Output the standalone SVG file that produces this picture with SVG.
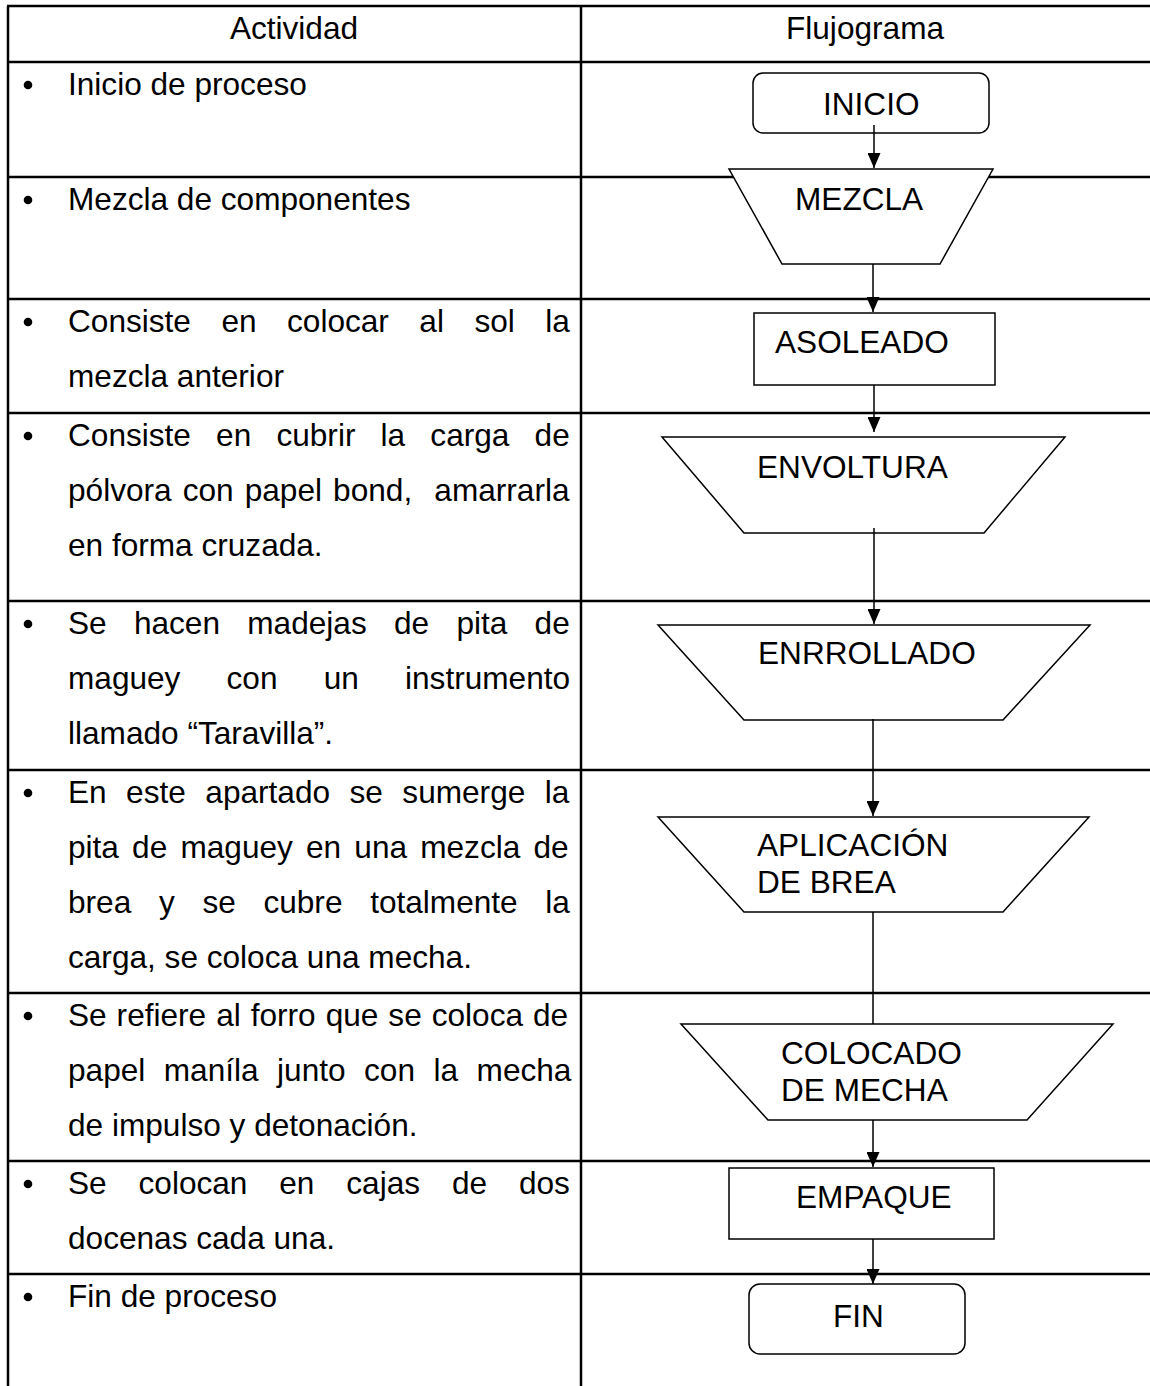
<svg xmlns="http://www.w3.org/2000/svg" width="1150" height="1386" viewBox="0 0 1150 1386">
<style>
text{font-family:"Liberation Sans",Arial,sans-serif;font-size:31.6px;fill:#000}
.grid{stroke:#000;stroke-width:2.5;fill:none}
.shape{stroke:#000;stroke-width:1.5;fill:#fff}
.conn{stroke:#000;stroke-width:1.5;fill:none}
.bul{fill:#000}
</style>
<defs>
<marker id="ah" viewBox="0 0 15 13" refX="15" refY="6.5" markerWidth="15" markerHeight="13" markerUnits="userSpaceOnUse" orient="auto">
<path d="M0,0 L15,6.5 L0,13 z" fill="#000"/>
</marker>
</defs>
<rect width="1150" height="1386" fill="#fff"/>
<g id="table" class="grid">
<line x1="8" y1="6" x2="8" y2="1386"/>
<line x1="581" y1="6" x2="581" y2="1386"/>
<line x1="7" y1="6" x2="1150" y2="6"/>
<line x1="7" y1="62" x2="1150" y2="62"/>
<line x1="7" y1="177" x2="1150" y2="177"/>
<line x1="7" y1="299" x2="1150" y2="299"/>
<line x1="7" y1="413" x2="1150" y2="413"/>
<line x1="7" y1="601" x2="1150" y2="601"/>
<line x1="7" y1="770" x2="1150" y2="770"/>
<line x1="7" y1="993" x2="1150" y2="993"/>
<line x1="7" y1="1161" x2="1150" y2="1161"/>
<line x1="7" y1="1274" x2="1150" y2="1274"/>
</g>
<g id="header">
<text x="294" y="39" text-anchor="middle">Actividad</text>
<text x="865" y="39" text-anchor="middle">Flujograma</text>
</g>
<g id="activities">
<circle class="bul" cx="28" cy="85" r="4.3"/>
<text x="68" y="95">Inicio de proceso</text>
<circle class="bul" cx="28" cy="200" r="4.3"/>
<text x="68" y="210">Mezcla de componentes</text>
<circle class="bul" cx="28" cy="322" r="4.3"/>
<text x="68" y="332" word-spacing="21.7">Consiste en colocar al sol la</text>
<text x="68" y="387">mezcla anterior</text>
<circle class="bul" cx="28" cy="436" r="4.3"/>
<text x="68" y="446" word-spacing="16.4">Consiste en cubrir la carga de</text>
<text x="68" y="501" word-spacing="2.3" xml:space="preserve">pólvora con papel bond,  amarrarla</text>
<text x="68" y="556">en forma cruzada.</text>
<circle class="bul" cx="28" cy="624" r="4.3"/>
<text x="68" y="634" word-spacing="18.5">Se hacen madejas de pita de</text>
<text x="68" y="689" word-spacing="37.4">maguey con un instrumento</text>
<text x="68" y="744">llamado “Taravilla”.</text>
<circle class="bul" cx="28" cy="793" r="4.3"/>
<text x="68" y="803" word-spacing="10.7">En este apartado se sumerge la</text>
<text x="68" y="858" word-spacing="4.4">pita de maguey en una mezcla de</text>
<text x="68" y="913" word-spacing="18.9">brea y se cubre totalmente la</text>
<text x="68" y="968">carga, se coloca una mecha.</text>
<circle class="bul" cx="28" cy="1016" r="4.3"/>
<text x="68" y="1026" word-spacing="1.2">Se refiere al forro que se coloca de</text>
<text x="68" y="1081" word-spacing="9.7">papel maníla junto con la mecha</text>
<text x="68" y="1136">de impulso y detonación.</text>
<circle class="bul" cx="28" cy="1184" r="4.3"/>
<text x="68" y="1194" word-spacing="23.1">Se colocan en cajas de dos</text>
<text x="68" y="1249">docenas cada una.</text>
<circle class="bul" cx="28" cy="1297" r="4.3"/>
<text x="68" y="1307">Fin de proceso</text>
</g>
<g id="n-inicio">
<rect class="shape" x="753" y="73" width="236" height="60" rx="10"/>
<text x="823" y="115">INICIO</text>
</g>
<g id="n-mezcla">
<polygon class="shape" points="729,169 993,169 940,264 782,264"/>
<text x="795" y="210">MEZCLA</text>
</g>
<g id="n-asoleado">
<rect class="shape" x="754" y="313" width="241" height="72"/>
<text x="775" y="353">ASOLEADO</text>
</g>
<g id="n-envoltura">
<polygon class="shape" points="662,437 1065,437 984,533 744,533"/>
<text x="757" y="478">ENVOLTURA</text>
</g>
<g id="n-enrrollado">
<polygon class="shape" points="658,625 1090,625 1003,720 744,720"/>
<text x="758" y="664">ENRROLLADO</text>
</g>
<g id="n-aplicacion">
<polygon class="shape" points="658,817 1089,817 1003,912 744,912"/>
<text x="757" y="856">APLICACIÓN</text>
<text x="757" y="893">DE BREA</text>
</g>
<g id="n-colocado">
<polygon class="shape" points="681,1024 1113,1024 1027,1120 768,1120"/>
<text x="781" y="1064">COLOCADO</text>
<text x="781" y="1101">DE MECHA</text>
</g>
<g id="n-empaque">
<rect class="shape" x="729" y="1168" width="265" height="71"/>
<text x="796" y="1208">EMPAQUE</text>
</g>
<g id="n-fin">
<rect class="shape" x="749" y="1284" width="216" height="70" rx="11"/>
<text x="833" y="1327">FIN</text>
</g>
<g id="connectors" class="conn">
<line x1="874" y1="125" x2="874" y2="168" marker-end="url(#ah)"/>
<line x1="873" y1="264" x2="873" y2="312" marker-end="url(#ah)"/>
<line x1="874" y1="385" x2="874" y2="432" marker-end="url(#ah)"/>
<line x1="874" y1="528" x2="874" y2="624" marker-end="url(#ah)"/>
<line x1="873" y1="719" x2="873" y2="816" marker-end="url(#ah)"/>
<line x1="873" y1="912" x2="873" y2="1024"/>
<line x1="873" y1="1120" x2="873" y2="1167" marker-end="url(#ah)"/>
<line x1="873" y1="1239" x2="873" y2="1284" marker-end="url(#ah)"/>
</g>
</svg>
